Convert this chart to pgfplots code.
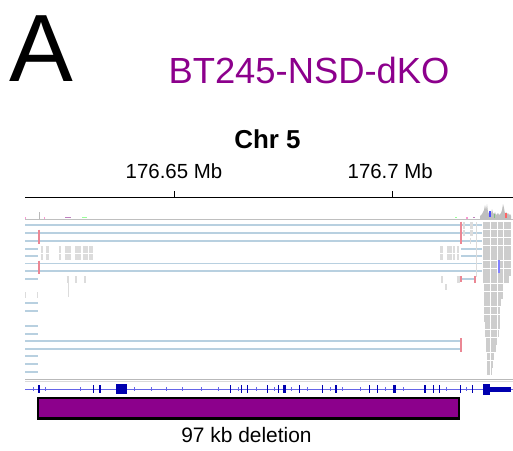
\documentclass[border=0pt]{standalone}
\usepackage{fontspec}
\setmainfont{Liberation Sans}
\usepackage{pgfplots}
\pgfplotsset{compat=1.18}
\definecolor{dko}{RGB}{140,0,140}
\definecolor{rdblue}{RGB}{184,208,224}
\definecolor{splitred}{RGB}{235,135,148}
\definecolor{genedark}{RGB}{0,0,175}
\definecolor{geneline}{RGB}{100,100,232}
\definecolor{readgray}{RGB}{205,205,205}
\definecolor{lightgray}{RGB}{220,220,220}
\begin{document}
\begin{tikzpicture}
\begin{axis}[width=513bp,height=451bp,scale only axis,
  xmin=10.092,xmax=127.753,ymin=0,ymax=451,y dir=reverse,
  axis lines=none,ticks=none,clip=false,unbounded coords=jump]
% ---- ruler (x in kb beyond 176,600 kb) ----
\addplot[black,line width=1bp] coordinates {(15.826,197) (127.753,197)};
\addplot[black,line width=1bp] coordinates {(50,191) (50,197) (nan,nan) (100,191) (100,197)};
\node[anchor=base west,font=\fontsize{96}{96}\selectfont,inner sep=0pt] at (axis cs:12.3,81.7) {A};
\node[anchor=base,font=\fontsize{36.5}{36.5}\selectfont,text=dko,inner sep=0pt] at (axis cs:80.96,83.3) {BT245-NSD-dKO};
\node[anchor=base,font=\bfseries\fontsize{26}{26}\selectfont,inner sep=0pt] at (axis cs:71.45,148.3) {Chr 5};
\node[anchor=base,font=\fontsize{20.5}{20.5}\selectfont,inner sep=0pt] at (axis cs:50,178.3) {176.65 Mb};
\node[anchor=base,font=\fontsize{20.5}{20.5}\selectfont,inner sep=0pt] at (axis cs:99.6,178.3) {176.7 Mb};
% ---- coverage track ----
\addplot[gray!50,line width=1.4bp] coordinates {(15.826,219.5) (127.753,219.5)};
\addplot[fill=gray!50,draw=none] coordinates {(120.184,219) (120.184,216) (120.643,214) (121.101,210) (121.331,205) (121.560,210) (121.789,204) (122.019,212) (122.248,214) (122.478,212) (122.707,214) (122.936,209) (123.166,213) (123.395,214) (123.624,212) (123.854,215) (124.083,214) (124.313,213) (124.542,215) (124.771,214) (125.001,213) (125.230,210) (125.459,204) (125.689,208) (125.918,214) (126.147,212) (126.377,214) (126.606,213) (126.835,215) (127.065,214) (127.294,216) (127.294,219)} --cycle;
\addplot[gray!55,line width=0.9bp] coordinates {(19.037,212) (19.037,219)};
\addplot[blue!70,line width=1.5bp] coordinates {(122.5,211) (122.5,217)};
\addplot[red!60,line width=1.5bp] coordinates {(126.1,213) (126.1,218)};
\addplot[green!50!black!50,line width=1.2bp] coordinates {(123.6,214) (123.6,218)};
\addplot[magenta!40,line width=1.2bp] coordinates {(16.0,217) (16.0,219) (nan,nan) (20.3,217) (20.3,219) (nan,nan) (117.2,217) (117.2,219)};
\addplot[violet!50,line width=1.5bp] coordinates {(25.1,217.5) (26.3,217.5) (nan,nan) (118.6,217.5) (119.0,217.5)};
\addplot[green!40,line width=1.5bp] coordinates {(28.9,217.5) (30.0,217.5) (nan,nan) (114.5,217.5) (114.8,217.5)};
% ---- split-read lines ----
\addplot[rdblue,line width=1.1bp] coordinates {
 (15.826,225) (120.643,225) (nan,nan) (15.826,233) (120.643,233) (nan,nan)
 (15.826,241) (120.643,241) (nan,nan) (15.826,263.5) (120.643,263.5) (nan,nan)
 (15.826,271) (120.643,271) (nan,nan) (15.826,341) (115.826,341) (nan,nan)
 (15.826,349) (115.826,349)};
\addplot[rdblue,line width=1.1bp] coordinates {
 (15.826,249) (18.808,249) (nan,nan) (15.826,256) (18.808,256) (nan,nan)
 (15.826,279) (18.808,279) (nan,nan) (15.826,303) (18.808,303) (nan,nan)
 (15.826,311) (18.808,311) (nan,nan) (15.826,326) (18.808,326) (nan,nan)
 (15.826,334) (18.808,334) (nan,nan) (15.826,356) (18.808,356) (nan,nan)
 (15.826,364) (18.808,364) (nan,nan) (15.826,372) (18.808,372) (nan,nan)
 (115.826,249) (120.643,249) (nan,nan) (115.826,256) (120.643,256) (nan,nan)
 (116.055,279) (119.037,279)};
\addplot[lightgray,line width=0.8bp] coordinates {(119.26,222) (119.26,277)};
% ---- scattered reads ----
\addplot[lightgray,line width=6.5bp] coordinates {
 (19.427,249.3) (19.886,249.3) (nan,nan) (20.642,249.3) (21.331,249.3) (nan,nan)
 (23.624,249.3) (24.083,249.3) (nan,nan) (25.000,249.3) (26.308,249.3) (nan,nan)
 (27.294,249.3) (28.601,249.3) (nan,nan) (29.129,249.3) (30.276,249.3) (nan,nan)
 (30.505,249.3) (31.422,249.3) (nan,nan)
 (19.427,256.8) (19.886,256.8) (nan,nan) (20.642,256.8) (21.331,256.8) (nan,nan)
 (23.624,256.8) (24.083,256.8) (nan,nan) (25.000,256.8) (26.308,256.8) (nan,nan)
 (27.294,256.8) (28.601,256.8) (nan,nan) (29.129,256.8) (30.276,256.8) (nan,nan)
 (30.505,256.8) (31.422,256.8) (nan,nan)
 (25.390,279.5) (25.986,279.5) (nan,nan) (27.294,279.5) (27.684,279.5) (nan,nan)
 (29.427,279.5) (29.817,279.5) (nan,nan)
 (111.010,249.3) (111.629,249.3) (nan,nan) (112.684,249.3) (113.693,249.3) (nan,nan)
 (113.923,249.3) (114.450,249.3) (nan,nan) (114.838,249.3) (115.435,249.3) (nan,nan)
 (111.010,256.8) (111.629,256.8) (nan,nan) (112.684,256.8) (113.693,256.8) (nan,nan)
 (113.923,256.8) (114.450,256.8) (nan,nan) (114.838,256.8) (115.435,256.8) (nan,nan)
 (111.239,279.5) (111.629,279.5) (nan,nan) (114.838,279.5) (115.597,279.5) (nan,nan)
 (112.156,287) (112.615,287) (nan,nan)
 (116.285,225.5) (116.743,225.5) (nan,nan) (117.890,225.5) (118.578,225.5) (nan,nan)
 (116.285,233) (116.743,233) (nan,nan) (117.890,233) (118.578,233) (nan,nan)
 (117.890,241) (118.2,241)};
\addplot[lightgray,line width=1bp] coordinates {(25.8,283) (25.8,297) (nan,nan) (15.9,292) (15.9,298) (nan,nan) (18.7,292) (18.7,298)};
% ---- split-read ends ----
\addplot[splitred,line width=1.6bp] coordinates {
 (19.037,229.5) (19.037,244) (nan,nan) (19.037,260.5) (19.037,274) (nan,nan)
 (115.826,221.5) (115.826,244) (nan,nan) (115.826,276) (115.826,282) (nan,nan)
 (115.826,338) (115.826,352) (nan,nan) (119.037,276) (119.037,283)};
% ---- read pile-up at the 3' end ----
\addplot[readgray,line width=7bp] coordinates {
 (120.872,225.5) (122.363,225.5) (nan,nan) (122.592,225.5) (123.968,225.5) (nan,nan) (124.198,225.5) (125.344,225.5) (nan,nan) (125.574,225.5) (127.179,225.5) (nan,nan)
 (120.872,233) (122.363,233) (nan,nan) (122.592,233) (123.968,233) (nan,nan) (124.198,233) (125.344,233) (nan,nan) (125.574,233) (127.179,233) (nan,nan)
 (120.872,241) (122.363,241) (nan,nan) (122.592,241) (123.968,241) (nan,nan) (124.198,241) (125.344,241) (nan,nan) (125.574,241) (127.179,241) (nan,nan)
 (120.872,249) (122.363,249) (nan,nan) (122.592,249) (123.968,249) (nan,nan) (124.198,249) (125.344,249) (nan,nan) (125.574,249) (127.179,249) (nan,nan)
 (120.872,256.5) (122.363,256.5) (nan,nan) (122.592,256.5) (123.968,256.5) (nan,nan) (124.198,256.5) (125.344,256.5) (nan,nan) (125.574,256.5) (127.179,256.5) (nan,nan)
 (120.872,264) (122.363,264) (nan,nan) (122.592,264) (123.968,264) (nan,nan) (124.198,264) (125.344,264) (nan,nan) (125.574,264) (127.179,264) (nan,nan)
 (120.872,272) (122.363,272) (nan,nan) (122.592,272) (123.968,272) (nan,nan) (124.198,272) (125.344,272) (nan,nan) (125.574,272) (127.179,272) (nan,nan)
 (120.872,279.5) (122.363,279.5) (nan,nan) (122.592,279.5) (123.968,279.5) (nan,nan) (124.198,279.5) (125.344,279.5) (nan,nan) (125.574,279.5) (126.9,279.5) (nan,nan)
 (121.101,287) (122.363,287) (nan,nan) (122.592,287) (123.968,287) (nan,nan) (124.198,287) (125.344,287) (nan,nan)
 (121.101,295) (122.363,295) (nan,nan) (122.592,295) (123.968,295) (nan,nan) (124.198,295) (125.344,295) (nan,nan)
 (121.101,302.5) (122.363,302.5) (nan,nan) (122.592,302.5) (123.968,302.5) (nan,nan) (124.198,302.5) (125.1,302.5) (nan,nan)
 (121.101,310) (122.363,310) (nan,nan) (122.592,310) (123.968,310) (nan,nan) (124.198,310) (124.771,310) (nan,nan)
 (121.101,318) (122.363,318) (nan,nan) (122.592,318) (123.968,318) (nan,nan) (124.198,318) (124.771,318) (nan,nan)
 (121.330,325.5) (122.363,325.5) (nan,nan) (122.592,325.5) (123.968,325.5) (nan,nan) (124.198,325.5) (124.771,325.5) (nan,nan)
 (121.330,333) (122.363,333) (nan,nan) (122.592,333) (123.968,333) (nan,nan) (124.198,333) (124.6,333) (nan,nan)
 (121.560,341) (122.363,341) (nan,nan) (122.592,341) (124.083,341) (nan,nan)
 (121.560,348.5) (122.363,348.5) (nan,nan) (122.592,348.5) (123.9,348.5) (nan,nan)
 (121.789,356) (122.363,356) (nan,nan) (122.592,356) (123.4,356) (nan,nan)
 (121.789,364) (122.363,364) (nan,nan) (122.592,364) (123.165,364) (nan,nan)
 (121.789,371.5) (122.363,371.5) (nan,nan) (122.592,371.5) (123.0,371.5)};
\addplot[blue!50,line width=1.3bp] coordinates {(124.542,260) (124.542,273)};
% ---- separator ----
\addplot[gray!55,line width=1.2bp] coordinates {(15.826,379.3) (127.753,379.3)};
\addplot[gray!30,line width=1.1bp] coordinates {(15.826,381.9) (127.753,381.9)};
% ---- gene track ----
\addplot[geneline,line width=0.8bp] coordinates {(15.826,389) (127.753,389)};
\addplot[geneline,line width=1bp] coordinates {
 (17.890,387) (17.890,391) (nan,nan) (20.642,387) (20.642,391) (nan,nan) (28.441,387) (28.441,391) (nan,nan)
 (41.055,387) (41.055,391) (nan,nan) (44.885,387) (44.885,391) (nan,nan) (48.325,387) (48.325,391) (nan,nan)
 (52.064,387) (52.064,391) (nan,nan) (56.353,387) (56.353,391) (nan,nan) (60.092,387) (60.092,391) (nan,nan)
 (64.748,387) (64.748,391) (nan,nan) (68.808,387) (68.808,391) (nan,nan) (72.936,387) (72.936,391) (nan,nan)
 (76.996,387) (76.996,391) (nan,nan) (80.666,387) (80.666,391) (nan,nan) (85.780,387) (85.780,391) (nan,nan)
 (88.760,387) (88.760,391) (nan,nan) (92.661,387) (92.661,391) (nan,nan) (98.395,387) (98.395,391) (nan,nan)
 (102.523,387) (102.523,391) (nan,nan) (112.547,387) (112.547,391) (nan,nan) (117.133,387) (117.133,391)};
\addplot[genedark,line width=1.4bp] coordinates {
 (19.037,385) (19.037,393) (nan,nan) (31.491,385) (31.491,393) (nan,nan) (33.028,385) (33.028,393) (nan,nan)
 (63.005,385) (63.005,393) (nan,nan) (65.528,385) (65.528,393) (nan,nan) (66.812,385) (66.812,393) (nan,nan)
 (71.400,385) (71.400,393) (nan,nan) (73.922,385) (73.922,393) (nan,nan) (75.069,385) (75.069,393) (nan,nan)
 (75.459,385) (75.459,393) (nan,nan) (78.739,385) (78.739,393) (nan,nan) (84.015,385) (84.015,393) (nan,nan)
 (87.156,385) (87.156,393) (nan,nan) (94.794,385) (94.794,393) (nan,nan) (96.629,385) (96.629,393) (nan,nan)
 (100.459,385) (100.459,393) (nan,nan) (100.849,385) (100.849,393) (nan,nan) (107.569,385) (107.569,393) (nan,nan)
 (109.473,385) (109.473,393) (nan,nan) (110.849,385) (110.849,393) (nan,nan) (115.757,385) (115.757,393) (nan,nan)
 (118.509,385) (118.509,393)};
\addplot[fill=genedark,draw=none] coordinates {(36.698,384) (39.152,384) (39.152,394) (36.698,394)} --cycle;
\addplot[fill=genedark,draw=none] coordinates {(120.872,383.5) (122.478,383.5) (122.478,394.5) (120.872,394.5)} --cycle;
\addplot[fill=genedark,draw=none] coordinates {(122.478,386.5) (127.294,386.5) (127.294,391.5) (122.478,391.5)} --cycle;
% ---- deletion ----
\addplot[fill=dko,draw=black,line width=2.5bp] coordinates {(18.808,398) (115.366,398) (115.366,418.5) (18.808,418.5)} --cycle;
\node[anchor=base,font=\fontsize{21}{21}\selectfont,inner sep=0pt] at (axis cs:66.63,442) {97 kb deletion};
\end{axis}
\pgfresetboundingbox
\useasboundingbox (current axis.south west) rectangle (current axis.north east);
\end{tikzpicture}
\end{document}
